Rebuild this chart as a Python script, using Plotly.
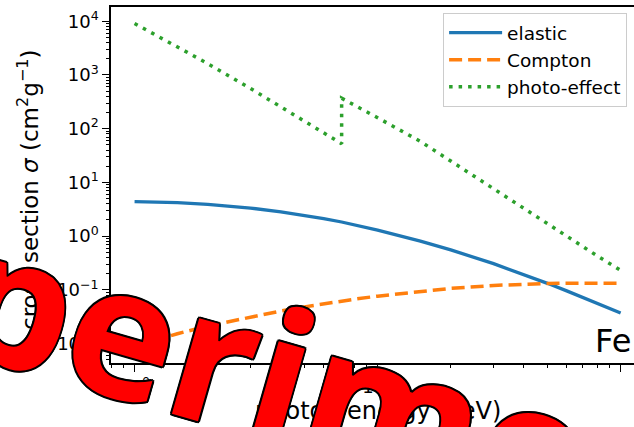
import plotly.graph_objects as go

# photon energy (keV) -- K-edge of Fe duplicated at 7.112 keV
energy = [1, 1.5, 2, 3, 4, 5, 6, 7.112, 7.112, 8, 10, 15, 20, 30, 40, 50, 60, 80, 100]
elastic = [4.40, 4.19, 3.90, 3.32, 2.83, 2.43, 2.11, 1.83, 1.83, 1.63, 1.29, 0.804, 0.553,
           0.307, 0.194, 0.132, 0.0955, 0.0564, 0.0371]
compton = [0.0088, 0.0152, 0.0212, 0.0315, 0.0403, 0.0481, 0.0549, 0.0617, 0.0617, 0.0666,
           0.0762, 0.0942, 0.1062, 0.1205, 0.1277, 0.1315, 0.1331, 0.1339, 0.1330]
photo = [9085, 3400, 1630, 560, 255, 139, 84, 52.5, 370, 280, 160, 58, 25,
         7.8, 3.4, 1.78, 1.0, 0.43, 0.23]

series_names = ["elastic", "Compton", "photo-effect"]
x_tickvals = [1, 10, 100]
x_ticktext = ["10<sup>0</sup>", "10<sup>1</sup>", "10<sup>2</sup>"]
y_tickvals = [1e-2, 1e-1, 1e0, 1e1, 1e2, 1e3, 1e4]
y_ticktext = ["10<sup>−2</sup>", "10<sup>−1</sup>", "10<sup>0</sup>", "10<sup>1</sup>",
              "10<sup>2</sup>", "10<sup>3</sup>", "10<sup>4</sup>"]
x_minor = [m * 10.0 ** d for d in (-1, 0, 1) for m in range(2, 10)]
y_minor = [m * 10.0 ** d for d in range(-3, 5) for m in range(2, 10)]

X_RANGE = [-0.097, 2.055]
Y_RANGE = [-2.363, 4.266]
FONT = "DejaVu Sans"

fig = go.Figure()
fig.add_trace(go.Scatter(x=energy, y=elastic, name=series_names[0], mode="lines",
                         line=dict(color="#1f77b4", width=3.3)))
fig.add_trace(go.Scatter(x=energy, y=compton, name=series_names[1], mode="lines",
                         line=dict(color="#ff7f0e", width=3.5, dash="13px,6px")))
fig.add_trace(go.Scatter(x=energy, y=photo, name=series_names[2], mode="lines",
                         line=dict(color="#2ca02c", width=3.5, dash="3.5px,6px")))
# invisible carrier so that the overlaid minor-tick axes are drawn
fig.add_trace(go.Scatter(x=energy[:1], y=elastic[:1], xaxis="x2", yaxis="y2",
                         mode="markers", marker=dict(opacity=0, size=1),
                         showlegend=False, hoverinfo="skip"))

axis_common = dict(
    type="log", showgrid=False, zeroline=False,
    showline=True, linecolor="black", linewidth=1.5,
    ticks="outside", ticklen=7, tickwidth=1.3, tickcolor="black",
    tickfont=dict(family=FONT, size=18, color="black"),
    tickmode="array",
)
minor_common = dict(
    type="log", showgrid=False, zeroline=False, showline=False,
    ticks="outside", ticklen=4, tickwidth=1, tickcolor="black",
    showticklabels=False, tickmode="array",
)

fig.update_layout(
    xaxis=dict(**axis_common, range=X_RANGE, mirror=True,
               tickvals=x_tickvals, ticktext=x_ticktext),
    yaxis=dict(**axis_common, range=Y_RANGE,
               tickvals=y_tickvals, ticktext=y_ticktext),
    xaxis2=dict(**minor_common, range=X_RANGE, overlaying="x", anchor="y2",
                side="bottom", tickvals=x_minor),
    yaxis2=dict(**minor_common, range=Y_RANGE, overlaying="y", anchor="x2",
                side="left", tickvals=y_minor),
)

fig.update_layout(
    width=634, height=427,
    margin=dict(l=111, r=0, t=7, b=64, pad=0),
    paper_bgcolor="white", plot_bgcolor="white",
    font=dict(family=FONT, color="black"),
    legend=dict(
        x=0.635, y=0.983, xanchor="left", yanchor="top",
        font=dict(family=FONT, size=18.5, color="black"),
        itemwidth=53,
        bgcolor="rgba(255,255,255,0.8)", bordercolor="#cccccc", borderwidth=1,
    ),
    annotations=[
        dict(text="cross section <i>σ</i> (cm<sup>2</sup>g<sup>−1</sup>)",
             xref="paper", yref="paper", x=-0.1587, y=0.4888,
             xanchor="center", yanchor="middle", textangle=-90, showarrow=False,
             font=dict(family=FONT, size=23, color="black")),
        dict(text="photon energy (keV)", xref="paper", yref="paper",
             x=0.5105, y=-0.135, xanchor="center", yanchor="middle", showarrow=False,
             font=dict(family=FONT, size=24, color="black")),
        dict(text="Fe", xref="paper", yref="paper", x=0.998, y=0.0618,
             xanchor="right", yanchor="middle", showarrow=False,
             font=dict(family=FONT, size=32, color="black")),
        dict(text="Experimental", xref="paper", yref="paper", x=0.457, y=-0.0787,
             xanchor="center", yanchor="middle", showarrow=False, textangle=16,
             font=dict(family="Open Sans", size=182, color="red", weight="bold",
                       shadow="2px 0 0 #000, -2px 0 0 #000, 0 2px 0 #000, 0 -2px 0 #000, "
                              "1.5px 1.5px 0 #000, -1.5px -1.5px 0 #000, "
                              "1.5px -1.5px 0 #000, -1.5px 1.5px 0 #000")),
    ],
)

fig.write_html("out.html", config={"displayModeBar": False})
